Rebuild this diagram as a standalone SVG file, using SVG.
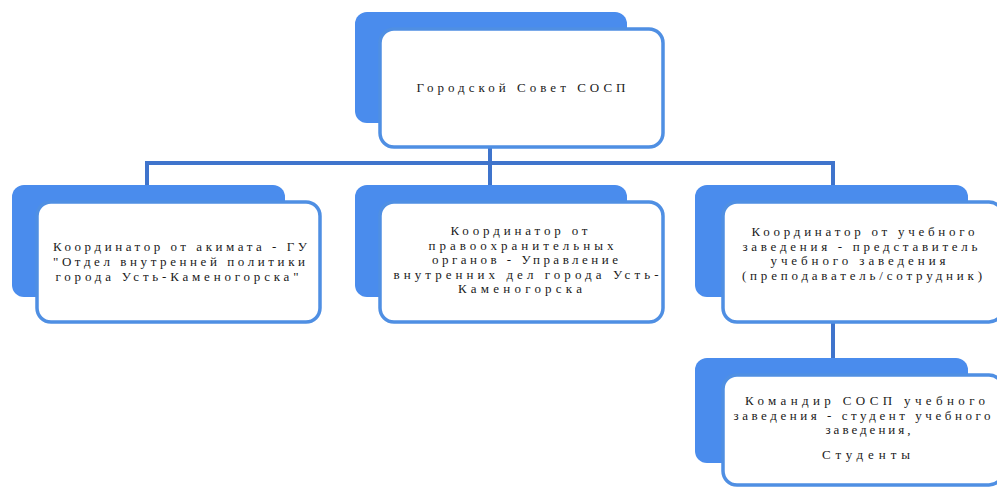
<svg xmlns="http://www.w3.org/2000/svg" width="997" height="489" viewBox="0 0 997 489">
<style>
.back{fill:#4a8ced;}
.front{fill:#ffffff;stroke:#4f8fe3;stroke-width:3.5;}
.conn{stroke:#3f74cc;stroke-width:4;fill:none;}
.t{font-family:'Liberation Serif','DejaVu Serif',serif;font-size:13px;fill:#1a1a1a;text-anchor:middle;}
</style>
<rect width="997" height="489" fill="#ffffff"/>
<g id="connectors">
<path class="conn" d="M490 148 V163 M147 185 V163 H833 V185 M490 163 V185 M833 322 V358"/>
</g>
<g id="node-city-council" class="t" font-family="Liberation Serif, serif">
<rect class="back" x="355" y="12" width="272" height="111" rx="12"/>
<rect class="front" x="380" y="29" width="283" height="118" rx="14"/>
<text x="521" y="92" textLength="209" lengthAdjust="spacing">Городской Совет СОСП</text>
</g>
<g id="node-akimat" class="t" font-family="Liberation Serif, serif">
<rect class="back" x="12" y="185" width="273" height="112" rx="12"/>
<rect class="front" x="37" y="202" width="283" height="120" rx="14"/>
<text x="180" y="251" textLength="254" lengthAdjust="spacing">Координатор от акимата - ГУ</text>
<text x="179" y="266" textLength="252" lengthAdjust="spacing">"Отдел внутренней политики</text>
<text x="177" y="281" textLength="243" lengthAdjust="spacing">города Усть-Каменогорска"</text>
</g>
<g id="node-police" class="t" font-family="Liberation Serif, serif">
<rect class="back" x="355" y="185" width="272" height="112" rx="12"/>
<rect class="front" x="380" y="202" width="283" height="120" rx="14"/>
<text x="519" y="235" textLength="137" lengthAdjust="spacing">Координатор от</text>
<text x="521" y="249.5" textLength="185" lengthAdjust="spacing">правоохранительных</text>
<text x="525" y="264" textLength="186" lengthAdjust="spacing">органов  - Управление</text>
<text x="526" y="278.5" textLength="265" lengthAdjust="spacing">внутренних дел города Усть-</text>
<text x="520" y="293" textLength="124" lengthAdjust="spacing">Каменогорска</text>
</g>
<g id="node-school-coordinator" class="t" font-family="Liberation Serif, serif">
<rect class="back" x="695" y="185" width="273" height="112" rx="12"/>
<rect class="front" x="723" y="202" width="280" height="120" rx="14"/>
<text x="863" y="236" textLength="223" lengthAdjust="spacing">Координатор от учебного</text>
<text x="860" y="250.5" textLength="235" lengthAdjust="spacing">заведения - представитель</text>
<text x="858" y="265" textLength="175" lengthAdjust="spacing">учебного заведения</text>
<text x="862" y="279.5" textLength="240" lengthAdjust="spacing">(преподаватель/сотрудник)</text>
</g>
<g id="node-commander" class="t" font-family="Liberation Serif, serif">
<rect class="back" x="695" y="358" width="273" height="105" rx="12"/>
<rect class="front" x="723" y="375" width="280" height="110" rx="14"/>
<text x="865" y="405" textLength="240" lengthAdjust="spacing">Командир СОСП учебного</text>
<text x="862" y="419.5" textLength="257" lengthAdjust="spacing">заведения - студент учебного</text>
<text x="868" y="434" textLength="85" lengthAdjust="spacing">заведения,</text>
<text x="866" y="459" textLength="88" lengthAdjust="spacing">Студенты</text>
</g>
</svg>
